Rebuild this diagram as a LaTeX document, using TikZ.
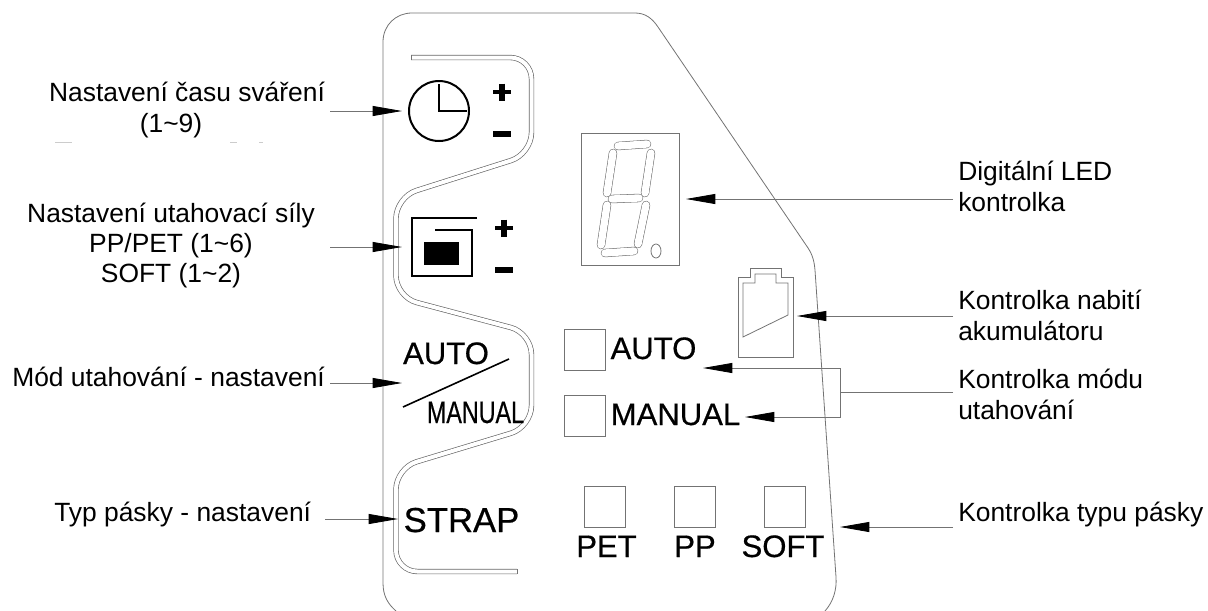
\documentclass[tikz,border=0pt]{standalone}
\usepackage{fontspec}
\setmainfont{Liberation Sans}
\newfontfamily\tagfont[FakeBold=0.6]{Liberation Sans}
\usetikzlibrary{arrows.meta}
\def\plusminus(#1,#2)(#3){
	\draw[line width=3.6pt] (#1-9, #2) -- (#1+9, #2);
	\draw[line width=3.9pt] (#1, #2-8.5) -- (#1, #2+8.5);
	\draw[line width=4.2pt] (#1-9, #3) -- (#1+9, #3);
}
\tikzset{
	thin gray/.style={line width=0.6pt, color=black!55},
	callout/.style={line width=0.6pt, color=black!55, -{Triangle[length=22pt, width=7.5pt, color=black]}},
	groove/.style={line width=0.5pt, color=black!60, double=white, double distance=3pt, rounded corners=16pt},
	segment/.style={line width=0.4pt, color=black!60, double=white, double distance=5.5pt, line cap=round},
	ledbox/.style={draw, line width=0.6pt, color=black!55, minimum size=30.75pt, inner sep=0pt},
	lbl/.style={inner sep=0pt, font=\fontsize{19.8}{22.8}\selectfont},
	tag/.style={inner sep=0pt, anchor=base, font=\tagfont\fontsize{23.3}{25}\selectfont},
}
\begin{document}
\begin{tikzpicture}[x=0.75pt, y=-0.75pt]
		\useasboundingbox (0, 0) rectangle (1208, 611);
		%%%%% PANEL %%%%%
		\draw[thin gray] (396, 611) .. controls (388, 604) and (383, 596) .. (383, 583) -- (383, 42) .. controls (383, 25) and (396, 13) .. (412, 13) -- (635, 13) .. controls (645, 13) and (652, 18) .. (658, 27) -- (806, 245) .. controls (811, 252) and (814, 258) .. (815, 270) -- (836, 577) .. controls (837, 590) and (833, 602) .. (825, 611);
		
		\draw[groove] (411, 57.5) -- (531.5, 57.5) -- (531.5, 154) -- (396, 197) -- (396, 297) -- (531.5, 333) -- (531.5, 427) -- (396, 468) -- (396, 571.5) -- (517, 571.5);
		\draw[thin gray, line width=0.5pt] (411, 55) -- (411, 60);
		\draw[thin gray, line width=0.5pt] (517, 569) -- (517, 574);
		
		%%%%% BUTTONS %%%%%
		\node[draw, circle, line width=1.5pt, minimum size=45pt, inner sep=0pt] (clock) at (439, 111) {};
		\draw[line width=1.5pt] (439, 84) -- (439, 111) -- (467, 111);
		\plusminus(502, 92)(134)
		
		\draw[line width=1.8pt] (477, 218) -- (412, 218) -- (412, 276) -- (472, 276) -- (472, 230) -- (435, 230);
		\draw[fill=black] (424, 242) rectangle (458, 264);
		\plusminus(504, 228)(270)
		
		\node[tag] (autobtn) at (446, 364) {AUTO};
		\draw[line width=1.2pt] (403, 407) -- (509, 359);
		\node[tag] (manualbtn) at (475.5, 423) {\scalebox{0.75}[1]{MANUAL}};
		\node[tag, font=\tagfont\fontsize{26}{28}\selectfont] (strapbtn) at (461.5, 532) {STRAP};
		
		%%%%% DISPLAY %%%%%
		\node[draw, thin gray, minimum width=73.5pt, minimum height=99pt, inner sep=0pt] (display) at (630, 199) {};
		\draw[segment] (618, 146) -- (647, 144);
		\draw[segment] (613, 153) -- (607, 193);
		\draw[segment] (651, 153) -- (645, 193);
		\draw[segment] (612, 199) -- (639, 198);
		\draw[segment] (607, 205) -- (601, 245);
		\draw[segment] (646, 205) -- (638, 244);
		\draw[segment] (605, 253) -- (634, 251);
		\draw[thin gray] (656, 251) ellipse (5 and 7);
		
		\draw[thin gray] (738, 357) -- (738, 277) -- (750, 277) -- (750, 268) -- (781, 268) -- (781, 277) -- (793, 277) -- (793, 357) -- cycle;
		\draw[thin gray] (743, 337) -- (743, 283) -- (755, 283) -- (755, 274) -- (776, 274) -- (776, 283) -- (788, 283) -- (788, 315) -- cycle;
		
		\node[ledbox] (autoled) at (584.5, 350) {};
		\node[ledbox] (manualled) at (584.5, 415.5) {};
		\node[ledbox] (petled) at (604.5, 506.5) {};
		\node[ledbox] (ppled) at (694.5, 506.5) {};
		\node[ledbox] (softled) at (784.5, 506.5) {};
		\node[tag] (autotag) at (653.5, 359) {AUTO};
		\node[tag] (manualtag) at (675.5, 425) {MANUAL};
		\node[tag] (pettag) at (606.5, 557) {PET};
		\node[tag] (pptag) at (695, 557) {PP};
		\node[tag] (softtag) at (783, 557) {SOFT};
		
		%%%%% LABELS %%%%%
		\node[lbl, anchor=base] (timelbl) at (187, 101) {Nastavení času sváření};
		\node[lbl, anchor=base] (timerange) at (171, 132) {(1\char`~9)};
		\node[lbl, anchor=base] (forcelbl) at (171, 222) {Nastavení utahovací síly};
		\node[lbl, anchor=base] (forcepp) at (171, 252) {PP/PET (1\char`~6)};
		\node[lbl, anchor=base] (forcesoft) at (171, 282) {SOFT (1\char`~2)};
		\node[lbl, anchor=base west] (modelbl) at (12, 386) {Mód utahování - nastavení};
		\node[lbl, anchor=base west] (typelbl) at (54, 521) {Typ pásky - nastavení};
		\node[lbl, anchor=base west] (ledlbl) at (958, 180) {Digitální LED};
		\node[lbl, anchor=base west] (ledlbltwo) at (958, 211) {kontrolka};
		\node[lbl, anchor=base west] (battlbl) at (958, 309) {Kontrolka nabití};
		\node[lbl, anchor=base west] (battlbltwo) at (958, 340) {akumulátoru};
		\node[lbl, anchor=base west] (indlbl) at (958, 388) {Kontrolka módu};
		\node[lbl, anchor=base west] (indlbltwo) at (958, 419) {utahování};
		\node[lbl, anchor=base west] (striplbl) at (958, 521) {Kontrolka typu pásky};
		
		% scraps left under the first label
		\draw[line width=0.5pt, color=black!20] (55, 142.5) -- (72, 142.5);
		\draw[line width=0.5pt, color=black!20] (230, 142.5) -- (237, 142.5);
		\draw[line width=0.5pt, color=black!20] (259, 142.5) -- (263, 142.5);
		
		%%%%% ARROWS %%%%%
		\coordinate (timefrom) at (330, 111);
		\coordinate (forcefrom) at (330, 247);
		\coordinate (modefrom) at (330, 383);
		\coordinate (typefrom) at (325, 519);
		\coordinate (ledfrom) at (953, 199);
		\coordinate (battfrom) at (953, 316);
		\coordinate (indfrom) at (953, 392);
		\coordinate (indknee) at (840, 392);
		\coordinate (stripfrom) at (953, 527);
		\coordinate (timetip) at (402, 111);
		\coordinate (forcetip) at (402, 247);
		\coordinate (modetip) at (402, 383);
		\coordinate (typetip) at (398, 519);
		\coordinate (ledtip) at (686, 199);
		\coordinate (batttip) at (797, 316);
		\coordinate (autotip) at (703, 368);
		\coordinate (manualtip) at (745, 417);
		\coordinate (striptip) at (840, 527);
		
		\draw[callout] (timefrom) -- (timetip);
		\draw[callout] (forcefrom) -- (forcetip);
		\draw[callout] (modefrom) -- (modetip);
		\draw[callout] (typefrom) -- (typetip);
		\draw[callout] (ledfrom) -- (ledtip);
		\draw[callout] (battfrom) -- (batttip);
		\draw[thin gray] (indfrom) -- (indknee);
		\draw[callout] (indknee) |- (autotip);
		\draw[callout] (indknee) |- (manualtip);
		\draw[callout] (stripfrom) -- (striptip);
	\end{tikzpicture}
\end{document}
